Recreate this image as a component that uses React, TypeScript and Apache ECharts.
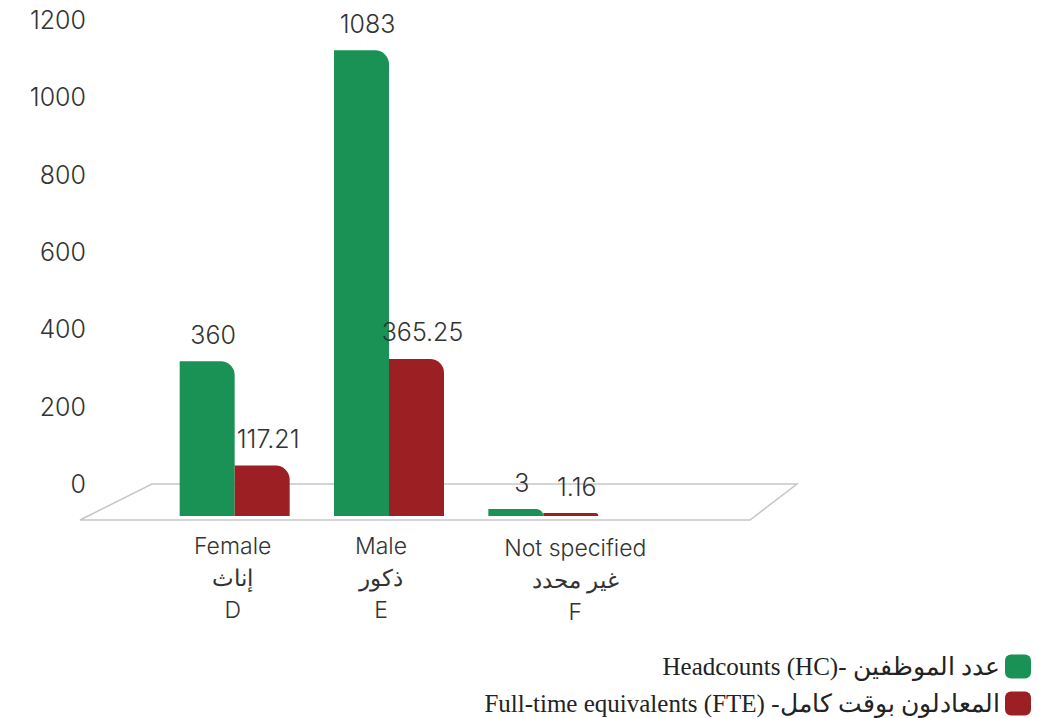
import React, { useEffect, useRef } from "react";
import * as echarts from "echarts";

const categories = ["Female\nإناث\nD", "Male\nذكور\nE", "Not specified\nغير محدد\nF"];
const headcounts = [360, 1083, 3];
const fte = [117.21, 365.25, 1.16];
const yTickInterval = 200;
const yMax = 1200;
const seriesNames = ["Headcounts (HC)- عدد الموظفين", "Full-time equivalents (FTE) -المعادلون بوقت كامل"];
const colors = ["#1a9256", "#9c1f24"];

const FONT = "Inter, Lato, 'DejaVu Sans', sans-serif";
const LEGEND_FONT = "'Liberation Serif', 'DejaVu Serif', serif";

export default function App() {
  const ref = useRef<HTMLDivElement>(null);
  useEffect(() => {
    if (!ref.current) return;
    const chart = echarts.init(ref.current, null, { renderer: "svg" });
    const richKeys = ["a", "b", "c"];
    const legendBase = {
      orient: "vertical",
      right: 8,
      align: "right",
      padding: 0,
      itemWidth: 26,
      itemHeight: 24,
      icon: "roundRect",
      textStyle: { fontFamily: LEGEND_FONT, fontSize: 25, lineHeight: 24, color: "#222" },
    };
    const labelStyle = {
      show: true,
      position: "top",
      distance: 14,
      offset: [6, 0],
      fontSize: 25,
      fontWeight: 300,
      color: "#333",
      fontFamily: FONT,
    };
    chart.setOption({
      animation: false,
      backgroundColor: "#ffffff",
      textStyle: { fontFamily: FONT },
      graphic: [
        {
          type: "polygon",
          z: -10,
          silent: true,
          shape: { points: [[152, 484], [797, 484], [750, 520], [80, 520]] },
          style: { fill: "#ffffff", stroke: "#c6c6c6", lineWidth: 1.5 },
        },
      ],
      legend: [
        { ...legendBase, top: 654, data: [seriesNames[0]] },
        { ...legendBase, top: 691, data: [seriesNames[1]] },
      ],
      grid: [
        { left: 157.5, right: 418.5, top: -4, bottom: 202, containLabel: false },
        { left: 90, width: 1, top: 20, bottom: 234, containLabel: false },
      ],
      xAxis: [
        {
          type: "category",
          gridIndex: 0,
          data: categories,
          axisLine: { show: false },
          axisTick: { show: false },
          axisLabel: {
            margin: 14,
            formatter: (v: string, i: number) =>
              v.split("\n").map((s) => `{${richKeys[i]}|${s}}`).join("\n"),
            rich: {
              a: { fontSize: 23, fontWeight: 300, lineHeight: 32, color: "#333", fontFamily: FONT, padding: [0, 4, 0, 0] },
              b: { fontSize: 23, fontWeight: 300, lineHeight: 32, color: "#333", fontFamily: FONT, padding: [0, 16, 0, 0] },
              c: { fontSize: 23, fontWeight: 300, lineHeight: 32, color: "#333", fontFamily: FONT, padding: [4, 0, 0, 64] },
            },
          },
        },
        { type: "value", gridIndex: 1, show: false },
      ],
      yAxis: [
        { type: "value", gridIndex: 0, min: 0, max: yMax, show: false },
        {
          type: "value",
          gridIndex: 1,
          min: 0,
          max: yMax,
          interval: yTickInterval,
          axisLine: { show: false },
          axisTick: { show: false },
          splitLine: { show: false },
          axisLabel: {
            fontSize: 25,
            fontWeight: 300,
            color: "#333",
            margin: 4,
            fontFamily: FONT,
            formatter: (v: number) => String(v),
          },
        },
      ],
      series: [
        {
          name: seriesNames[0],
          type: "bar",
          xAxisIndex: 0,
          yAxisIndex: 0,
          data: headcounts,
          barWidth: 55,
          barGap: "0%",
          barMinHeight: 7,
          itemStyle: { color: colors[0], borderRadius: [0, 14, 0, 0] },
          label: labelStyle,
        },
        {
          name: seriesNames[1],
          type: "bar",
          xAxisIndex: 0,
          yAxisIndex: 0,
          data: fte,
          barWidth: 55,
          barGap: "0%",
          barMinHeight: 3,
          itemStyle: { color: colors[1], borderRadius: [0, 14, 0, 0] },
          label: labelStyle,
        },
      ],
    });
    return () => chart.dispose();
  }, []);
  return <div ref={ref} style={{ width: 1039, height: 718, position: "absolute", left: 0, top: 0 }} />;
}
